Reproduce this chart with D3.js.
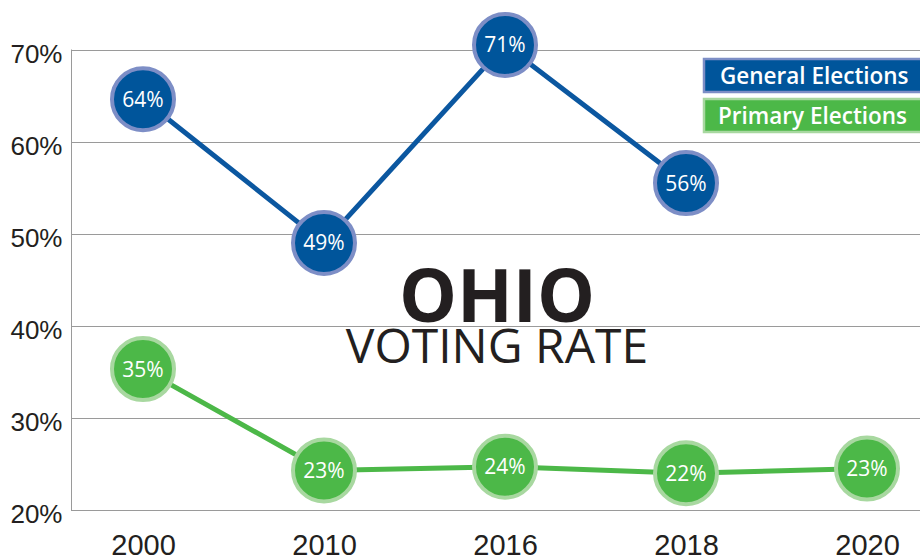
<!DOCTYPE html>
<html>
<head>
<meta charset="utf-8">
<script src="https://cdn.jsdelivr.net/npm/d3@7"></script>
<style>
  body { margin: 0; background: #fff; }
  svg { display: block; }
</style>
</head>
<body>
<svg id="chart" width="920" height="557"></svg>
<script>
// data
const years = ['2000', '2010', '2016', '2018', '2020'];
const generalValues = [64.6, 49.0, 70.5, 55.5];          // plotted positions
const generalLabels = ['64%', '49%', '71%', '56%'];
const primaryValues = [35.3, 24.3, 24.7, 24.0, 24.5];
const primaryLabels = ['35%', '23%', '24%', '22%', '23%'];
const yTicks = [20, 30, 40, 50, 60, 70];
const legendNames = ['General Elections', 'Primary Elections'];

const svg = d3.select('#chart');

// scales
const x = d3.scalePoint()
            .domain(years)
            .range([143, 867]);
const y = d3.scaleLinear()
            .domain([20, 70])
            .range([510, 49.5]);

// grid lines
const grid = svg.append('g').attr('class', 'grid');
grid.selectAll('line')
    .data(yTicks)
    .join('line')
    .attr('x1', 71)
    .attr('x2', 920)
    .attr('y1', d => Math.round(y(d)) + 0.5)
    .attr('y2', d => Math.round(y(d)) + 0.5)
    .attr('stroke', '#9a9a9a')
    .attr('stroke-width', 1);

// y axis
const yAxisG = svg.append('g')
                  .attr('class', 'y-axis')
                  .attr('transform', 'translate(71.5,0)');
yAxisG.call(d3.axisLeft(y).tickValues(yTicks).tickSize(0).tickPadding(9).tickFormat(d => d + '%'));
yAxisG.select('.domain').attr('stroke', '#9a9a9a').attr('d', `M0,${y(20)}V${y(70)}`);
yAxisG.selectAll('text')
      .attr('font-family', 'Liberation Sans, Arial, sans-serif')
      .attr('font-size', 26)
      .attr('fill', '#231f20')
      .attr('dy', '0.49em');

// x axis labels
const xAxisG = svg.append('g')
                  .attr('class', 'x-axis')
                  .attr('transform', 'translate(0,555)');
xAxisG.call(d3.axisBottom(x).tickSize(0).tickPadding(0));
xAxisG.select('.domain').remove();
xAxisG.selectAll('text')
      .attr('font-family', 'Liberation Sans, Arial, sans-serif')
      .attr('font-size', 29)
      .attr('fill', '#231f20')
      .attr('dy', 0);

// title
svg.append('text')
   .attr('x', 497).attr('y', 322)
   .attr('text-anchor', 'middle')
   .attr('font-family', 'Open Sans, sans-serif')
   .attr('font-weight', 700)
   .attr('font-size', 73)
   .attr('fill', '#231f20')
   .text('OHIO');
svg.append('text')
   .attr('x', 497).attr('y', 363)
   .attr('text-anchor', 'middle')
   .attr('font-family', 'Open Sans, sans-serif')
   .attr('font-size', 48)
   .attr('fill', '#231f20')
   .text('VOTING RATE');

// series
const series = [
  { values: generalValues, labels: generalLabels, line: '#0b57a0', fill: '#00559b', ring: '#7d8ec6' },
  { values: primaryValues, labels: primaryLabels, line: '#4cb848', fill: '#4cb848', ring: '#a8d8a0' }
];

const line = d3.line()
               .x((d, i) => x(years[i]))
               .y(d => y(d));

series.forEach(s => {
  svg.append('path')
     .datum(s.values)
     .attr('d', line)
     .attr('fill', 'none')
     .attr('stroke', s.line)
     .attr('stroke-width', 5);

  const pts = svg.append('g')
                 .selectAll('g')
                 .data(s.values)
                 .join('g')
                 .attr('transform', (d, i) => `translate(${x(years[i])},${y(d)})`);
  pts.append('circle')
     .attr('r', 31)
     .attr('fill', s.fill)
     .attr('stroke', s.ring)
     .attr('stroke-width', 4);
  pts.append('text')
     .attr('text-anchor', 'middle')
     .attr('dy', '0.36em')
     .attr('font-family', 'Open Sans, sans-serif')
     .attr('font-size', 21)
     .attr('fill', '#fff')
     .text((d, i) => s.labels[i]);
});

// legend
const legend = svg.append('g').attr('class', 'legend');
const legendG = legend.selectAll('g')
                      .data(legendNames)
                      .join('g')
                      .attr('transform', (d, i) => `translate(704,${59 + i * 40})`);
legendG.append('rect')
       .attr('width', 230)
       .attr('height', 33)
       .attr('fill', (d, i) => series[i].fill)
       .attr('stroke', (d, i) => series[i].ring)
       .attr('stroke-width', 2.5);
legendG.append('text')
       .attr('x', (d, i) => i === 0 ? 16 : 14)
       .attr('y', 17)
       .attr('dy', '0.36em')
       .attr('font-family', 'Open Sans, sans-serif')
       .attr('font-weight', 600)
       .attr('font-size', 22.5)
       .attr('fill', '#fff')
       .text(d => d);
</script>
</body>
</html>
